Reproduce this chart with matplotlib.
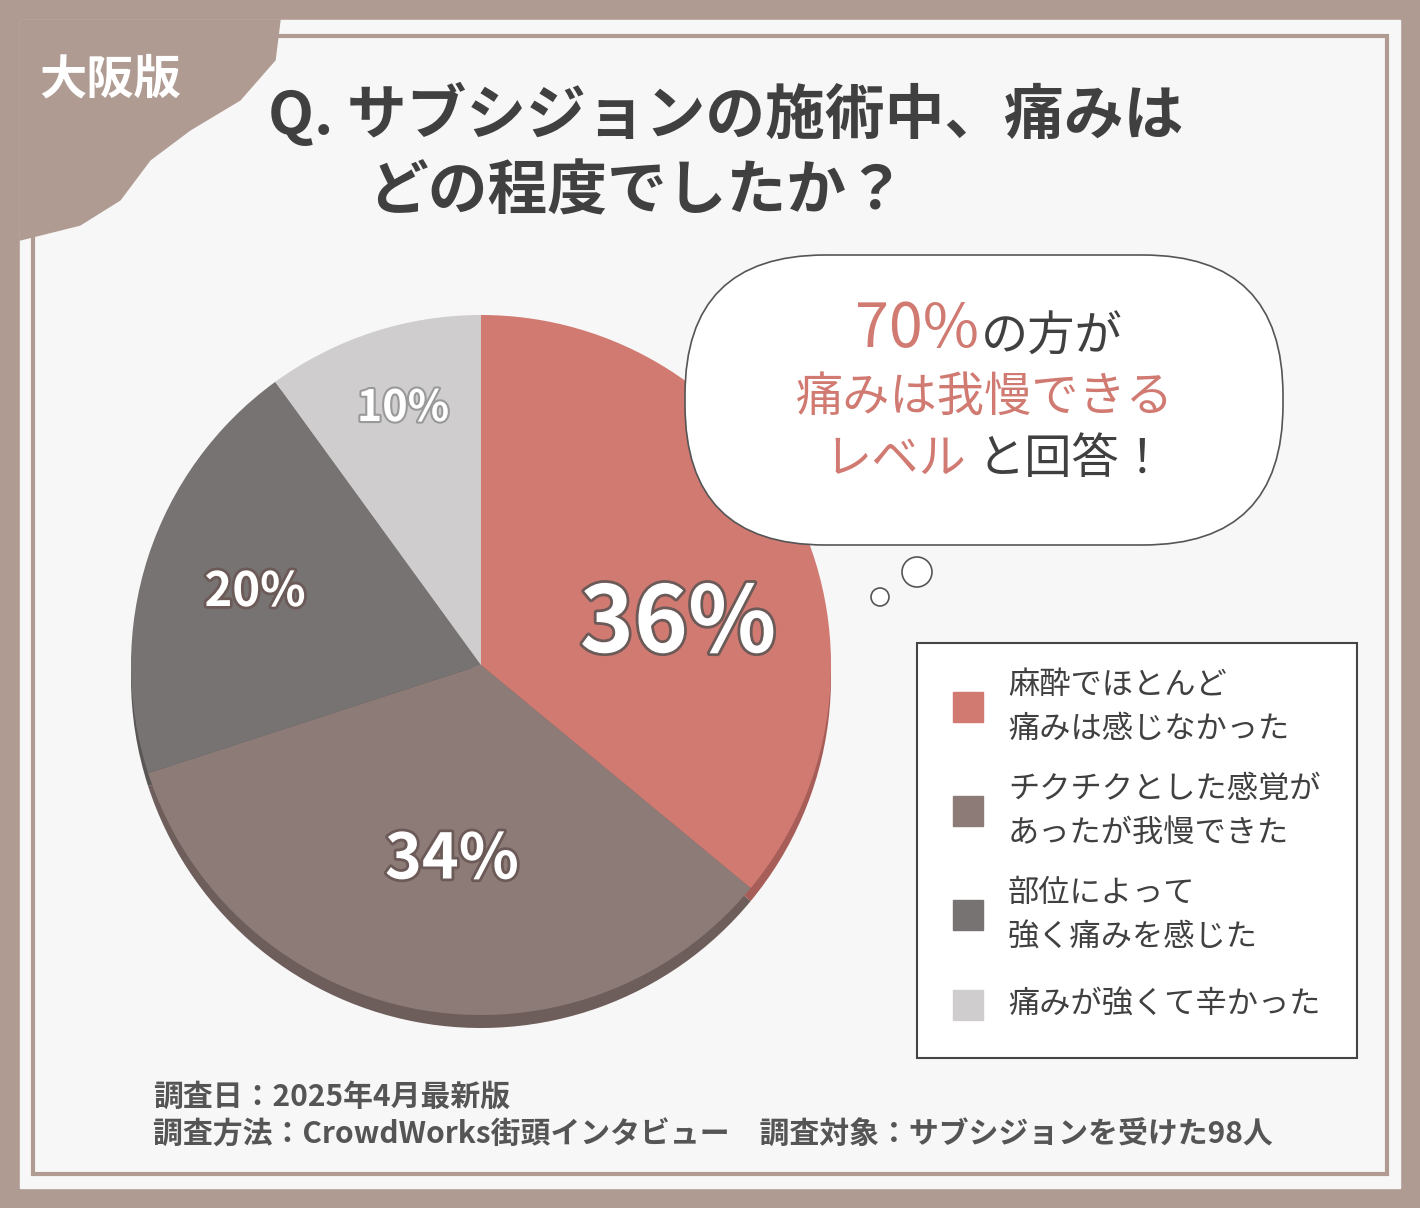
import matplotlib
matplotlib.use("Agg")
import matplotlib.pyplot as plt
from matplotlib.patches import Rectangle, Circle, FancyBboxPatch, Polygon
import matplotlib.patheffects as pe

plt.rcParams["font.family"] = "Noto Sans CJK JP"

labels = ["麻酔でほとんど\n痛みは感じなかった", "チクチクとした感覚が\nあったが我慢できた",
          "部位によって\n強く痛みを感じた", "痛みが強くて辛かった"]
values = [36, 34, 20, 10]
colors = ["#d07a72", "#8d7b77", "#777372", "#cfcdcd"]
shadow_colors = ["#a85e58", "#6e5e5b", "#5a5656", "#a8a6a6"]

fig = plt.figure(figsize=(14.2, 12.08), dpi=100)
fig.patch.set_facecolor("#b09b93")
ax = fig.add_axes([0, 0, 1, 1])

# pie (y-axis is inverted later, so angles are mirrored)
ax.pie(values, colors=shadow_colors, startangle=-90, counterclock=True, center=(481, 678),
       radius=350, wedgeprops=dict(lw=0), frame=True)
w, _ = ax.pie(values, colors=colors, startangle=-90, counterclock=True, center=(481, 665),
              radius=350, wedgeprops=dict(lw=0), frame=True)
ax.set_xlim(0, 1420); ax.set_ylim(1208, 0); ax.set_aspect("equal"); ax.axis("off")

ax.add_patch(Rectangle((20, 20), 1380, 1168, color="#f8f7f7", zorder=-2))
ax.add_patch(Rectangle((33, 36), 1354, 1138, fill=False, ec="#b09b93", lw=3, zorder=-1))
blob = Polygon([(20, 20), (280, 20), (275, 60), (240, 100), (190, 130), (150, 160),
                (120, 200), (80, 225), (20, 240)], closed=True, color="#b09b93", zorder=2)
ax.add_patch(blob)
ax.text(110, 80, "大阪版", fontsize=34, fontweight="bold", color="white", ha="center", va="center", zorder=3)

ax.text(268, 115, "Q. サブシジョンの施術中、痛みは", fontsize=43, fontweight="bold", color="#404040", va="center")
ax.text(368, 193, "どの程度でしたか？", fontsize=43, fontweight="bold", color="#404040", va="center")

stroke = [pe.withStroke(linewidth=4, foreground="#6b5a57")]
ax.text(678, 625, f"{values[0]}%", fontsize=66, fontweight="bold", color="white", ha="center", va="center", zorder=6, path_effects=stroke)
ax.text(452, 860, f"{values[1]}%", fontsize=45, fontweight="bold", color="white", ha="center", va="center", zorder=6, path_effects=stroke)
ax.text(255, 592, f"{values[2]}%", fontsize=34, fontweight="bold", color="white", ha="center", va="center", zorder=6, path_effects=stroke)
ax.text(403, 408, f"{values[3]}%", fontsize=31, fontweight="bold", color="white", ha="center", va="center", zorder=6,
        path_effects=[pe.withStroke(linewidth=3, foreground="#999999")])

ax.add_patch(FancyBboxPatch((685, 255), 598, 290, boxstyle="round,pad=0,rounding_size=140",
                            fc="white", ec="#555555", lw=1.2, zorder=6))
ax.add_patch(Circle((917, 572), 15, fc="white", ec="#555555", lw=1.2, zorder=6))
ax.add_patch(Circle((880, 597), 9, fc="white", ec="#555555", lw=1.2, zorder=6))
red = "#d07a72"
ax.text(917, 330, "70%", fontsize=44, color=red, ha="center", va="center", zorder=7)
ax.text(1052, 337, "の方が", fontsize=34, color="#404040", ha="center", va="center", zorder=7)
ax.text(985, 398, "痛みは我慢できる", fontsize=34, color=red, ha="center", va="center", zorder=7)
ax.text(895, 460, "レベル", fontsize=34, color=red, ha="center", va="center", zorder=7)
ax.text(1072, 460, "と回答！", fontsize=34, color="#404040", ha="center", va="center", zorder=7)

ax.add_patch(Rectangle((917, 643), 440, 415, fc="white", ec="#444444", lw=1.5, zorder=6))
ys = [707, 811, 915, 1005]
for y, lab, c in zip(ys, labels, colors):
    ax.add_patch(Rectangle((953, y - 15), 30, 30, color=c, zorder=7))
    ax.text(1008, y, lab, fontsize=22.5, color="#404040", va="center", linespacing=1.5, zorder=7)

ax.text(153, 1097, "調査日：2025年4月最新版", fontsize=21.5, fontweight="bold", color="#555555", va="center")
ax.text(153, 1135, "調査方法：CrowdWorks街頭インタビュー　調査対象：サブシジョンを受けた98人",
        fontsize=21.5, fontweight="bold", color="#555555", va="center")

fig.savefig("out.png", dpi=100, facecolor=fig.get_facecolor())
